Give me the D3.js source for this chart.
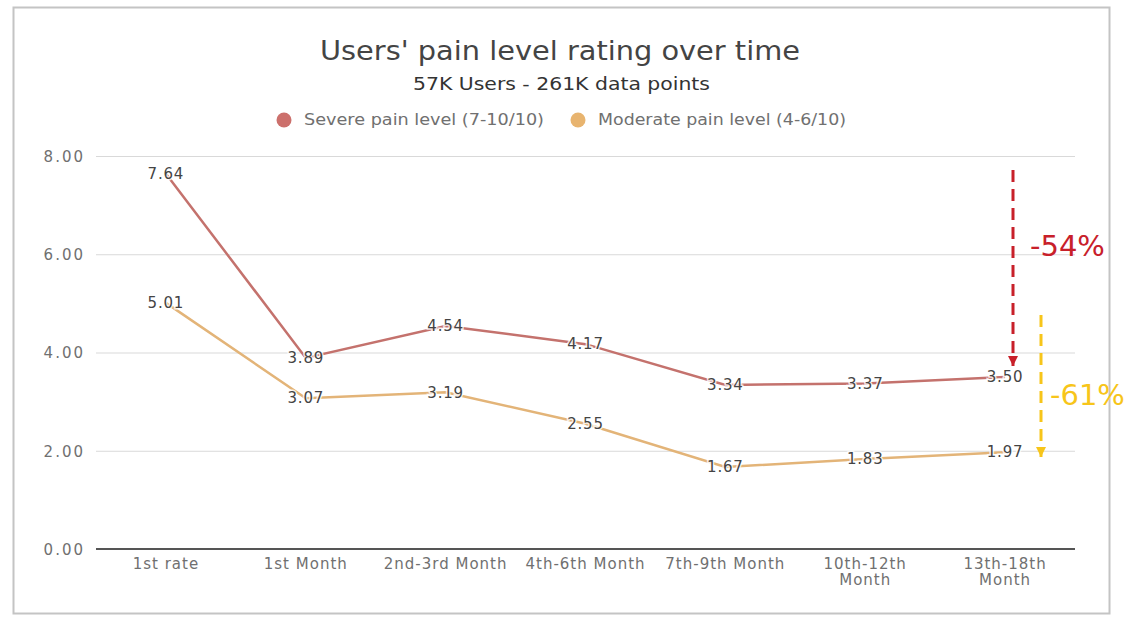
<!DOCTYPE html>
<html>
<head>
<meta charset="utf-8">
<script src="https://cdn.jsdelivr.net/npm/d3@7"></script>
<style>
  body { margin: 0; background: #fff; }
  text { font-family: "DejaVu Sans", Verdana, sans-serif; }
</style>
</head>
<body>
<svg id="chart" width="1130" height="617"></svg>
<script>
// --- data ---
var categories = ["1st rate", "1st Month", "2nd-3rd Month", "4th-6th Month", "7th-9th Month", "10th-12th\nMonth", "13th-18th\nMonth"];
var severe = [7.64, 3.89, 4.54, 4.17, 3.34, 3.37, 3.50];
var moderate = [5.01, 3.07, 3.19, 2.55, 1.67, 1.83, 1.97];
var yTicks = [0, 2, 4, 6, 8];
var seriesNames = ["Severe pain level (7-10/10)", "Moderate pain level (4-6/10)"];
var seriesColors = ["#c4726d", "#e3b478"];
var legendDots = ["#cc706c", "#e8b46f"];

var width = 1130;
var height = 617;
var margin = {left: 96, right: 55, top: 156, bottom: 68};

var svg = d3.select("#chart");

// frame round the chart
svg.append("rect")
  .attr("x", 13.5).attr("y", 7.5)
  .attr("width", 1096).attr("height", 606)
  .attr("fill", "none")
  .attr("stroke", "#c4c4c4")
  .attr("stroke-width", 2);

var x = d3.scaleBand().domain(categories).range([margin.left, width - margin.right]);
var y = d3.scaleLinear().domain([0, 8]).range([height - margin.bottom, margin.top]);

// gridlines
svg.append("g")
  .selectAll("line")
  .data(yTicks.filter(d => d > 0))
  .join("line")
  .attr("x1", margin.left).attr("x2", width - margin.right)
  .attr("y1", d => y(d) + 0.5).attr("y2", d => y(d) + 0.5)
  .attr("stroke", "#d9d9d9")
  .attr("stroke-width", 1);

// y axis labels
var yAxis = svg.append("g")
  .attr("transform", "translate(" + (margin.left - 8) + ",0)")
  .call(d3.axisLeft(y).tickValues(yTicks).tickFormat(d3.format(".2f")).tickSize(0));
yAxis.select(".domain").remove();
yAxis.selectAll("text")
  .attr("font-size", 15)
  .attr("letter-spacing", 2)
  .attr("fill", "#707070")
  .attr("dy", "0.35em");

// x axis baseline
svg.append("line")
  .attr("x1", margin.left).attr("x2", width - margin.right)
  .attr("y1", y(0)).attr("y2", y(0))
  .attr("stroke", "#555")
  .attr("stroke-width", 2);

// x labels (can be two lines)
var xl = svg.append("g")
  .selectAll("text")
  .data(categories)
  .join("text")
  .attr("x", d => x(d) + x.bandwidth() / 2)
  .attr("y", y(0) + 20)
  .attr("text-anchor", "middle")
  .attr("font-size", 15)
  .attr("letter-spacing", 1)
  .attr("fill", "#707070");
xl.selectAll("tspan")
  .data(d => d.split("\n"))
  .join("tspan")
  .attr("x", function() { return this.parentNode.getAttribute("x"); })
  .attr("dy", (d, i) => i === 0 ? 0 : 16)
  .text(d => d);

// lines + labels
var line = d3.line()
  .x((d, i) => x(categories[i]) + x.bandwidth() / 2)
  .y(d => y(d));

[severe, moderate].forEach(function(series, k) {
  svg.append("path")
    .datum(series)
    .attr("d", line)
    .attr("fill", "none")
    .attr("stroke", seriesColors[k])
    .attr("stroke-width", 2.5);
});

[severe, moderate].forEach(function(series) {
  svg.append("g")
    .selectAll("text")
    .data(series)
    .join("text")
    .attr("x", (d, i) => x(categories[i]) + x.bandwidth() / 2)
    .attr("y", d => y(d))
    .attr("dy", "0.35em")
    .attr("text-anchor", "middle")
    .attr("font-size", 15)
    .attr("letter-spacing", 0.8)
    .attr("fill", "#444")
    .attr("stroke", "#fff")
    .attr("stroke-width", 3)
    .attr("stroke-opacity", 0.8)
    .attr("paint-order", "stroke")
    .text(d => d.toFixed(2));
});

// title + subtitle (widths stretched to match the original)
svg.append("text")
  .attr("x", 320).attr("y", 60)
  .attr("font-size", 26)
  .attr("textLength", 480)
  .attr("lengthAdjust", "spacingAndGlyphs")
  .attr("fill", "#444")
  .text("Users' pain level rating over time");

svg.append("text")
  .attr("x", 413).attr("y", 90)
  .attr("font-size", 18)
  .attr("textLength", 297)
  .attr("lengthAdjust", "spacingAndGlyphs")
  .attr("fill", "#333")
  .text("57K Users - 261K data points");

// legend
var legendX = [284, 578];
var legendLen = [240, 248];
var lg = svg.append("g")
  .selectAll("g")
  .data(seriesNames)
  .join("g")
  .attr("transform", (d, i) => "translate(" + legendX[i] + ",120)");
lg.append("circle")
  .attr("r", 7.5)
  .attr("fill", (d, i) => legendDots[i]);
lg.append("text")
  .attr("x", 20)
  .attr("dy", "0.35em")
  .attr("font-size", 15)
  .attr("textLength", (d, i) => legendLen[i])
  .attr("lengthAdjust", "spacingAndGlyphs")
  .attr("fill", "#707070")
  .text(d => d);

// annotations: dashed arrows with % drop
var defs = svg.append("defs");
function arrowHead(id, color) {
  defs.append("marker")
    .attr("id", id)
    .attr("viewBox", "0 0 10 10")
    .attr("refX", 10).attr("refY", 5)
    .attr("markerWidth", 10).attr("markerHeight", 10)
    .attr("markerUnits", "userSpaceOnUse")
    .attr("orient", "auto")
    .append("path")
    .attr("d", "M0,0 L10,5 L0,10 Z")
    .attr("fill", color);
}
arrowHead("arrRed", "#c8202a");
arrowHead("arrYellow", "#f7c51a");

var drops = [
  {text: "-54%", color: "#c8202a", marker: "arrRed", x: 1013, from: 170, to: 366, tx: 1030, ty: 256},
  {text: "-61%", color: "#f7c51a", marker: "arrYellow", x: 1041, from: 315, to: 457, tx: 1050, ty: 405}
];
drops.forEach(function(a) {
  svg.append("line")
    .attr("x1", a.x).attr("x2", a.x)
    .attr("y1", a.from).attr("y2", a.to)
    .attr("stroke", a.color)
    .attr("stroke-width", 3)
    .attr("stroke-dasharray", "12,7")
    .attr("marker-end", "url(#" + a.marker + ")");
  svg.append("text")
    .attr("x", a.tx).attr("y", a.ty)
    .attr("font-family", "Liberation Sans, Arial, sans-serif")
    .attr("font-size", 29)
    .attr("fill", a.color)
    .text(a.text);
});
</script>
</body>
</html>
